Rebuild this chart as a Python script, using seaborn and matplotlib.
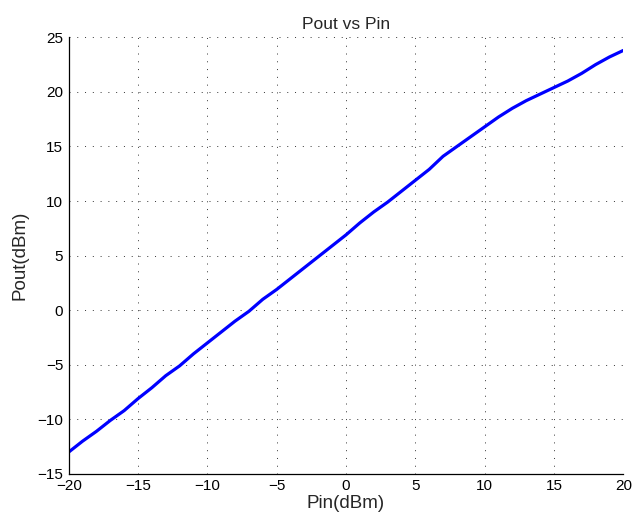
import seaborn as sns
import pandas as pd
import matplotlib.pyplot as plt

# values, 1 dB steps
pin_dbm = list(range(-20, 21))
pout_dbm = [-13.0, -12.0, -11.1, -10.1, -9.2, -8.1, -7.1, -6.0, -5.1, -4.0,
            -3.0, -2.0, -1.0, -0.1, 1.0, 1.9, 2.9, 3.9, 4.9, 5.9,
            6.9, 8.0, 9.0, 9.9, 10.9, 11.9, 12.9, 14.1, 15.0, 15.9,
            16.8, 17.7, 18.5, 19.2, 19.8, 20.4, 21.0, 21.7, 22.5, 23.2, 23.8]
x_ticks = [-20, -15, -10, -5, 0, 5, 10, 15, 20]
y_ticks = [-15, -10, -5, 0, 5, 10, 15, 20, 25]

df = pd.DataFrame({"Pin": pin_dbm, "Pout": pout_dbm})

sns.set_theme(style="white")
plt.rcParams['font.family'] = ['Liberation Sans', 'DejaVu Sans']
plt.rcParams['axes.unicode_minus'] = True

fig = plt.figure(figsize=(6.36, 5.26), dpi=100)
ax = fig.add_axes([0.108, 0.099, 0.872, 0.830])
sns.lineplot(data=df, x="Pin", y="Pout", color=(0, 0, 1), linewidth=2.3, ax=ax)

ax.set_xlim(-20, 20)
ax.set_ylim(-15, 25)
ax.set_xticks(x_ticks)
ax.set_yticks(y_ticks)
ax.grid(True, color="#333333", linestyle=(0, (1, 7)), linewidth=0.7)
ax.tick_params(direction="in", length=4, width=0.8, labelsize=11, colors="black", pad=4)

for side in ["top", "right"]:
    ax.spines[side].set_visible(False)
for side in ["left", "bottom"]:
    ax.spines[side].set_color("black")
    ax.spines[side].set_linewidth(0.9)

ax.set_xlabel("Pin(dBm)", size=13.5, labelpad=1)
ax.set_ylabel("Pout(dBm)", size=13.5, labelpad=6)
ax.set_title("Pout vs Pin", size=12.5, pad=6)

plt.savefig("out.png", dpi=100)
